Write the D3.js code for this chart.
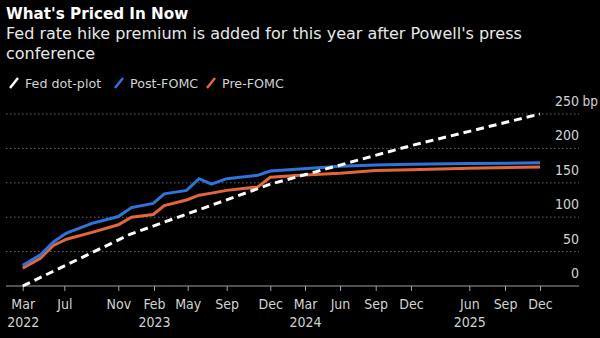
<!DOCTYPE html>
<html>
<head>
<meta charset="utf-8">
<script src="https://cdn.jsdelivr.net/npm/d3@7/dist/d3.min.js"></script>
<style>
body{margin:0;background:#000;}
svg{display:block;background:#000;font-family:"DejaVu Sans",sans-serif;}
.axl{font-family:"Liberation Sans Narrow","DejaVu Sans Condensed",sans-serif;}
</style>
</head>
<body>
<svg id="chart" width="600" height="338"></svg>
<script>
// ---- data ----
var tickDates = ["2022-03-01","2022-07-01","2022-11-01","2023-02-01","2023-05-01","2023-09-01","2023-12-01",
                 "2024-03-01","2024-06-01","2024-09-01","2024-12-01","2025-06-01","2025-09-01","2025-12-01"];
var tickMonths = ["Mar","Jul","Nov","Feb","May","Sep","Dec","Mar","Jun","Sep","Dec","Jun","Sep","Dec"];
var tickYears = ["2022","","","2023","","","","2024","","","","2025","",""];

var pointDates = ["2022-03-01","2022-04-21","2022-05-30","2022-07-06","2022-09-02","2022-11-01","2022-12-05",
                  "2023-01-30","2023-02-28","2023-04-28","2023-06-06","2023-07-15","2023-09-01","2023-11-05",
                  "2023-12-01","2024-02-17","2024-06-01","2024-09-01","2024-12-01","2025-06-01","2025-12-01"];
var postFomc = [30,45,64,77,91,101,114,120,134,139,156,148,156,161,167,170,174,176,177,178,179];
var preFomc  = [26,40,59,68,78,89,100,104,117,125,132,135,139,144,158,161,164,168,169,171,173];

var dotDates = ["2022-03-01","2022-12-01","2023-12-01","2024-12-01","2025-12-01"];
var dotPlot  = [0,75,148,204,250];

var yTicks = [0,50,100,150,200,250];
var seriesNames = ["Fed dot-plot","Post-FOMC","Pre-FOMC"];

// ---- layout ----
var gridLeft = 6, gridRight = 579;
// the source axis is not evenly spaced in time; these are the measured tick spots
var tickX = [22.7,64.3,118.3,154,187.7,226.7,270.3,305,340,375.7,411,469.3,505,540];
var colors = {dot:"#ffffff", post:"#2f74da", pre:"#e4663d"};
var txt = "#d2d2d2";

var parse = d3.timeParse("%Y-%m-%d");
var x = d3.scaleTime().domain(tickDates.map(parse)).range(tickX);
var y = d3.scaleLinear().domain([0,250]).range([286,114]);

var svg = d3.select("#chart");

// titles
svg.append("text").attr("x",6).attr("y",19)
  .attr("fill","#fff").attr("font-weight","bold").attr("font-size",15.2)
  .text("What's Priced In Now");
var sub = svg.append("text").attr("x",6).attr("y",38.5)
  .attr("fill","#e8e8e8").attr("font-size",16);
sub.append("tspan").attr("x",6).text("Fed rate hike premium is added for this year after Powell's press");
sub.append("tspan").attr("x",6).attr("dy",20.5).text("conference");

// legend
var legX = [10,115,207];
var legCol = [colors.dot,colors.post,colors.pre];
var leg = svg.append("g").selectAll("g").data(seriesNames).join("g")
  .attr("transform",function(d,i){return "translate("+legX[i]+",83)";});
leg.append("line").attr("x1",0).attr("y1",5).attr("x2",8).attr("y2",-5)
  .attr("stroke",function(d,i){return legCol[i];}).attr("stroke-width",2.5);
leg.append("text").attr("x",15).attr("y",4.5)
  .attr("fill",txt).attr("font-size",12.7).text(function(d){return d;});

// grid
svg.append("g").selectAll("line").data(yTicks.filter(function(v){return v>0;})).join("line")
  .attr("x1",gridLeft).attr("x2",gridRight)
  .attr("y1",function(d){return y(d);}).attr("y2",function(d){return y(d);})
  .attr("stroke","#6a6a6a").attr("stroke-width",1).attr("stroke-dasharray","1.5,2.5");

// y labels
svg.append("g").selectAll("text").data(yTicks).join("text").attr("class","axl")
  .attr("x",gridRight).attr("y",function(d){return y(d)-8;})
  .attr("text-anchor","end").attr("fill",txt).attr("font-size",14)
  .text(function(d){return d;});
svg.append("text").attr("class","axl").attr("x",598).attr("y",y(250)-8)
  .attr("text-anchor","end").attr("fill",txt).attr("font-size",13.5).text("bp");

// x axis
var xAxis = d3.axisBottom(x).tickValues(tickDates.map(parse)).tickSize(5)
  .tickFormat(function(d,i){return tickMonths[i];});
var ax = svg.append("g").attr("transform","translate(0,"+y(0)+")").call(xAxis);
ax.select(".domain").remove();
ax.attr("font-family",null).attr("font-size",null);
ax.selectAll(".tick line").attr("stroke","#a0a0a0");
ax.selectAll(".tick text").attr("class","axl").attr("fill",txt).attr("font-size",14)
  .attr("y",0).attr("dy",null).attr("transform","translate(0,23)");
ax.selectAll(".tick").append("text").attr("class","axl")
  .attr("y",41).attr("fill",txt).attr("font-size",14).attr("text-anchor","middle")
  .text(function(d,i){return tickYears[i];});
svg.append("line").attr("x1",gridLeft).attr("x2",gridRight)
  .attr("y1",y(0)).attr("y2",y(0)).attr("stroke","#a0a0a0").attr("stroke-width",1);

// series
function rows(ds,vs){return ds.map(function(d,i){return {date:parse(d),v:vs[i]};});}
var line = d3.line().x(function(d){return x(d.date);}).y(function(d){return y(d.v);});

svg.append("path").datum(rows(pointDates,preFomc)).attr("d",line)
  .attr("fill","none").attr("stroke",colors.pre).attr("stroke-width",3);
svg.append("path").datum(rows(pointDates,postFomc)).attr("d",line)
  .attr("fill","none").attr("stroke",colors.post).attr("stroke-width",3);
svg.append("path").datum(rows(dotDates,dotPlot)).attr("d",line)
  .attr("fill","none").attr("stroke",colors.dot).attr("stroke-width",3)
  .attr("stroke-dasharray","8,5");
</script>
</body>
</html>
